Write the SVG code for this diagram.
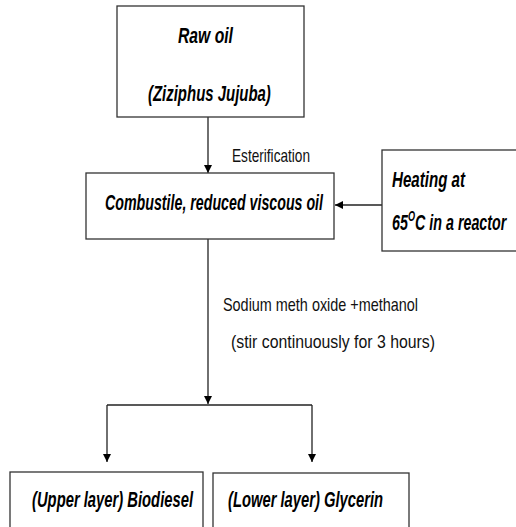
<svg xmlns="http://www.w3.org/2000/svg" width="516" height="527" viewBox="0 0 516 527">
<style>
.box{fill:#fff;stroke:#333;stroke-width:1.3}
.n{font-family:"Liberation Sans",Arial,sans-serif;font-weight:bold;font-style:italic;font-size:22px;fill:#000}
.l{font-family:"Liberation Sans",Arial,sans-serif;font-size:18px;fill:#111}
.c{fill:none;stroke:#222;stroke-width:1.3}
</style>
<defs>
<marker id="ah" viewBox="0 0 8 10" refX="8" refY="5" markerWidth="8" markerHeight="10" markerUnits="userSpaceOnUse" orient="auto"><path d="M0,1 L8,5 L0,9 z" fill="#000"/></marker>
</defs>
<rect width="516" height="527" fill="#fff"/>
<g id="connectors">
<line class="c" x1="208" y1="117" x2="208" y2="173" marker-end="url(#ah)"/>
<line class="c" x1="382" y1="205" x2="335" y2="205" marker-end="url(#ah)"/>
<line class="c" x1="208" y1="239" x2="208" y2="404" marker-end="url(#ah)"/>
<polyline class="c" points="107,405 312,405"/>
<line class="c" x1="107" y1="405" x2="107" y2="462" marker-end="url(#ah)"/>
<line class="c" x1="312" y1="405" x2="312" y2="462" marker-end="url(#ah)"/>
<text class="l" transform="matrix(0.7 0 0 1 232 162)" textLength="111.4" lengthAdjust="spacingAndGlyphs">Esterification</text>
<text class="l" transform="matrix(0.7 0 0 1 223 311)" textLength="278.6" lengthAdjust="spacingAndGlyphs">Sodium meth oxide +methanol</text>
<text class="l" transform="matrix(0.7 0 0 1 231 348)" textLength="291.4" lengthAdjust="spacingAndGlyphs">(stir continuously for 3 hours)</text>
</g>
<g id="raw-oil">
<rect class="box" x="117" y="6" width="187" height="111"/>
<text class="n" transform="matrix(0.65 0 0 1 178 43)" textLength="84.6" lengthAdjust="spacingAndGlyphs">Raw oil</text>
<text class="n" transform="matrix(0.65 0 0 1 148 101)" textLength="189" lengthAdjust="spacingAndGlyphs">(Ziziphus Jujuba)</text>
</g>
<g id="combustile">
<rect class="box" x="86" y="173" width="248" height="66"/>
<text class="n" transform="matrix(0.65 0 0 1 105 210)" textLength="335.4" lengthAdjust="spacingAndGlyphs">Combustile, reduced viscous oil</text>
</g>
<g id="heating">
<rect class="box" x="382" y="150" width="140" height="101"/>
<text class="n" transform="matrix(0.65 0 0 1 392 187)" textLength="112.3" lengthAdjust="spacingAndGlyphs">Heating at</text>
<text class="n" transform="matrix(0.65 0 0 1 392 230)">65<tspan font-size="14" dy="-9">O</tspan><tspan dy="9">C in a reactor</tspan></text>
</g>
<g id="biodiesel">
<rect class="box" x="10" y="472" width="193" height="70"/>
<text class="n" transform="matrix(0.65 0 0 1 32 507)" textLength="247.7" lengthAdjust="spacingAndGlyphs">(Upper layer) Biodiesel</text>
</g>
<g id="glycerin">
<rect class="box" x="213" y="473" width="196" height="70"/>
<text class="n" transform="matrix(0.65 0 0 1 228 507)" textLength="238.5" lengthAdjust="spacingAndGlyphs">(Lower layer) Glycerin</text>
</g>
</svg>
